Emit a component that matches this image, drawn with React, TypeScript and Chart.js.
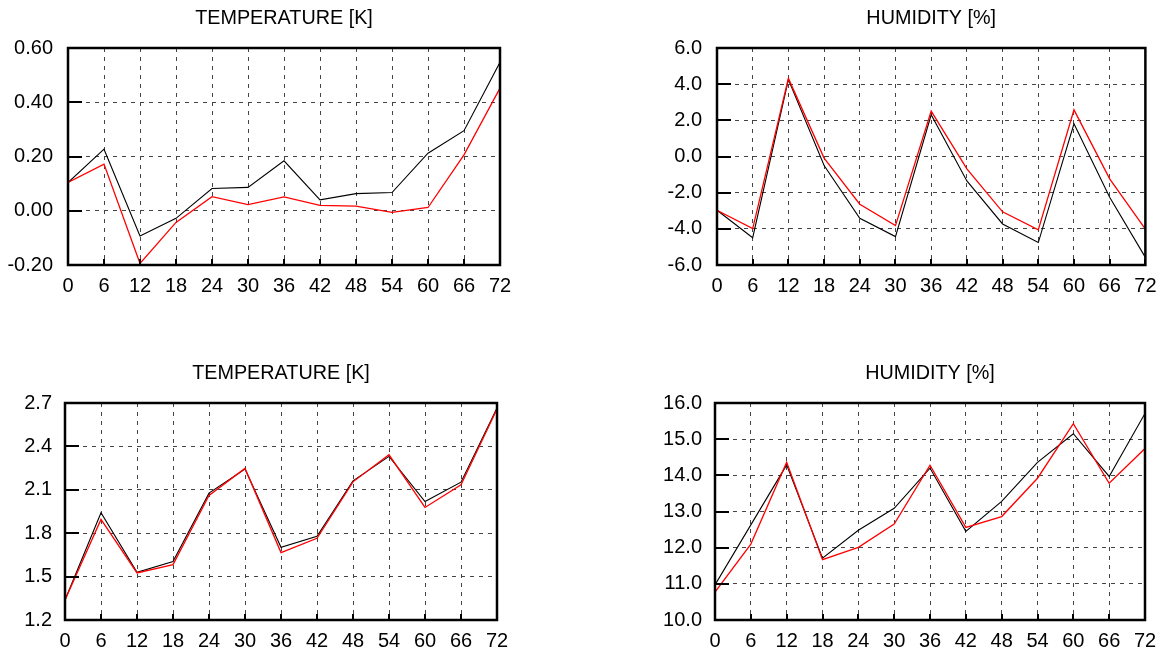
import React, { useEffect, useRef } from "react";
import { Chart, registerables } from "chart.js";

Chart.register(...registerables);

// ---------- data ----------
const HOURS = [0, 6, 12, 18, 24, 30, 36, 42, 48, 54, 60, 66, 72];

const TEMP_TOP_BLACK = [0.104, 0.227, -0.093, -0.028, 0.082, 0.086, 0.184, 0.04, 0.063, 0.067, 0.212, 0.295, 0.547];
const TEMP_TOP_RED = [0.104, 0.172, -0.194, -0.043, 0.052, 0.023, 0.051, 0.02, 0.017, -0.006, 0.012, 0.206, 0.452];
const TEMP_TOP_YTICKS = [-0.2, 0, 0.2, 0.4, 0.6];

const HUM_TOP_BLACK = [-2.97, -4.49, 4.25, -0.5, -3.42, -4.43, 2.31, -1.35, -3.73, -4.76, 1.81, -2.25, -5.58];
const HUM_TOP_RED = [-2.97, -3.99, 4.32, -0.09, -2.64, -3.82, 2.51, -0.68, -3.06, -4.06, 2.58, -1.24, -4.02];
const HUM_TOP_YTICKS = [-6, -4, -2, 0, 2, 4, 6];

const TEMP_BOT_BLACK = [1.338, 1.941, 1.53, 1.604, 2.077, 2.243, 1.703, 1.779, 2.162, 2.331, 2.019, 2.153, 2.666];
const TEMP_BOT_RED = [1.338, 1.895, 1.525, 1.583, 2.061, 2.248, 1.666, 1.765, 2.155, 2.342, 1.978, 2.135, 2.659];
const TEMP_BOT_YTICKS = [1.2, 1.5, 1.8, 2.1, 2.4, 2.7];

const HUM_BOT_BLACK = [10.97, 12.63, 14.29, 11.71, 12.48, 13.09, 14.2, 12.45, 13.28, 14.36, 15.15, 13.97, 15.71];
const HUM_BOT_RED = [10.77, 12.1, 14.36, 11.67, 12.01, 12.65, 14.28, 12.56, 12.86, 13.92, 15.43, 13.78, 14.74];
const HUM_BOT_YTICKS = [10, 11, 12, 13, 14, 15, 16];

const TITLE_TEMP = "TEMPERATURE [K]";
const TITLE_HUM = "HUMIDITY [%]";

// ---------- layout ----------
type Panel = {
  title: string;
  black: number[];
  red: number[];
  yTicks: number[];
  decimals: number;
  left: number;
  top: number;
  width: number;
  height: number;
  plotLeft: number;
  plotRight: number;
  plotBottom: number;
  yPad: number;
};

const PANELS: Panel[] = [
  { title: TITLE_TEMP, black: TEMP_TOP_BLACK, red: TEMP_TOP_RED, yTicks: TEMP_TOP_YTICKS, decimals: 2,
    left: 0, top: 0, width: 560, height: 320, plotLeft: 68, plotRight: 500, plotBottom: 265, yPad: 15 },
  { title: TITLE_HUM, black: HUM_TOP_BLACK, red: HUM_TOP_RED, yTicks: HUM_TOP_YTICKS, decimals: 1,
    left: 640, top: 0, width: 526, height: 320, plotLeft: 77, plotRight: 509, plotBottom: 265, yPad: 15 },
  { title: TITLE_TEMP, black: TEMP_BOT_BLACK, red: TEMP_BOT_RED, yTicks: TEMP_BOT_YTICKS, decimals: 1,
    left: 0, top: 355, width: 560, height: 300, plotLeft: 65, plotRight: 497, plotBottom: 265, yPad: 13 },
  { title: TITLE_HUM, black: HUM_BOT_BLACK, red: HUM_BOT_RED, yTicks: HUM_BOT_YTICKS, decimals: 1,
    left: 640, top: 355, width: 526, height: 300, plotLeft: 75, plotRight: 505, plotBottom: 265, yPad: 13 },
];

const FONT = "'Liberation Sans', Arial, sans-serif";

const framePlugin = {
  id: "frame",
  afterDatasetsDraw(chart: any) {
    const { ctx, chartArea: a } = chart;
    const xs = chart.scales.x;
    const ys = chart.scales.y;
    ctx.save();
    ctx.strokeStyle = "#000";
    ctx.lineWidth = 2;
    ctx.beginPath();
    ys.ticks.forEach((t: any) => {
      const y = Math.round(ys.getPixelForValue(t.value));
      ctx.moveTo(a.left, y);
      ctx.lineTo(a.left + 14, y);
    });
    xs.ticks.forEach((t: any) => {
      const x = Math.round(xs.getPixelForValue(t.value));
      ctx.moveTo(x, a.bottom);
      ctx.lineTo(x, a.bottom - 6);
    });
    ctx.stroke();
    ctx.lineWidth = 2.5;
    ctx.strokeRect(a.left, a.top, a.right - a.left, a.bottom - a.top);
    ctx.restore();
  },
};

function PanelChart({ p }: { p: Panel }) {
  const ref = useRef<HTMLCanvasElement | null>(null);
  useEffect(() => {
    if (!ref.current) return;
    const chart = new Chart(ref.current, {
      type: "line",
      data: {
        datasets: [
          {
            data: HOURS.map((h, i) => ({ x: h, y: p.red[i] })),
            borderColor: "#ff0000",
            borderWidth: 1.3,
            pointRadius: 0,
            tension: 0,
            fill: false,
          },
          {
            data: HOURS.map((h, i) => ({ x: h, y: p.black[i] })),
            borderColor: "#000000",
            borderWidth: 1.1,
            pointRadius: 0,
            tension: 0,
            fill: false,
          },
        ],
      },
      options: {
        animation: false,
        responsive: false,
        devicePixelRatio: 1,
        layout: { padding: { top: 0, left: 0, bottom: 0, right: p.width - p.plotRight } },
        plugins: {
          legend: { display: false },
          tooltip: { enabled: false },
          title: {
            display: true,
            text: p.title,
            fullSize: false,
            color: "#000",
            font: { family: FONT, size: 19.8, weight: "normal", lineHeight: 1.2 },
            padding: { top: 6.4, bottom: 17.84 },
          },
        },
        scales: {
          x: {
            type: "linear",
            min: HOURS[0],
            max: HOURS[HOURS.length - 1],
            afterBuildTicks: (s: any) => {
              s.ticks = HOURS.map((v) => ({ value: v }));
            },
            afterFit: (s: any) => {
              s.height = p.height - p.plotBottom;
            },
            ticks: {
              autoSkip: false,
              maxRotation: 0,
              padding: 9.5,
              color: "#000",
              font: { family: FONT, size: 20 },
              callback: (v: any) => String(v),
            },
            grid: { color: "#444", lineWidth: 1, drawTicks: false },
            border: { display: false, dash: [4, 5] },
          },
          y: {
            type: "linear",
            min: p.yTicks[0],
            max: p.yTicks[p.yTicks.length - 1],
            afterBuildTicks: (s: any) => {
              s.ticks = p.yTicks.map((v) => ({ value: v }));
            },
            afterFit: (s: any) => {
              s.width = p.plotLeft;
            },
            ticks: {
              autoSkip: false,
              padding: p.yPad,
              color: "#000",
              font: { family: FONT, size: 20 },
              callback: (v: any) => Number(v).toFixed(p.decimals),
            },
            grid: { color: "#444", lineWidth: 1, drawTicks: false },
            border: { display: false, dash: [4, 5] },
          },
        },
      } as any,
      plugins: [framePlugin],
    });
    return () => chart.destroy();
  }, [p]);
  return (
    <canvas
      ref={ref}
      width={p.width}
      height={p.height}
      style={{ position: "absolute", left: p.left, top: p.top, width: p.width, height: p.height, display: "block" }}
    />
  );
}

export default function App() {
  return (
    <div style={{ position: "absolute", left: 0, top: 0, width: 1166, height: 655, overflow: "hidden", background: "#fff" }}>
      {PANELS.map((p, i) => (
        <PanelChart key={i} p={p} />
      ))}
    </div>
  );
}
